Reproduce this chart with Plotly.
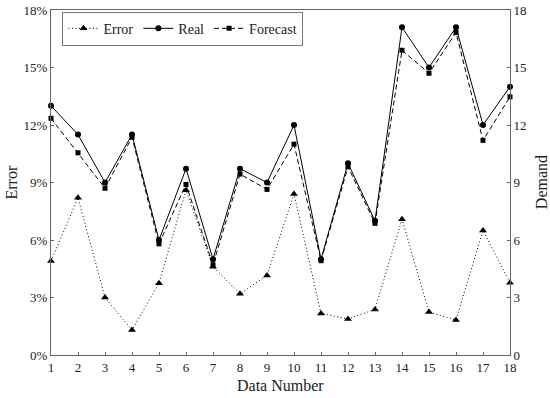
import plotly.graph_objects as go

data_number = list(range(1, 19))
error_pct = [4.9, 8.2, 3.0, 1.3, 3.75, 8.6, 4.6, 3.2, 4.15, 8.4, 2.17, 1.88, 2.38, 7.08, 2.24, 1.83, 6.5, 3.77]
real = [13.0, 11.5, 9.0, 11.5, 6.0, 9.72, 5.0, 9.72, 9.0, 12.0, 5.0, 10.0, 7.0, 17.1, 15.0, 17.1, 12.0, 14.0]
forecast = [12.35, 10.55, 8.7, 11.36, 5.8, 8.9, 4.7, 9.44, 8.64, 11.0, 4.92, 9.82, 6.87, 15.9, 14.7, 16.83, 11.2, 13.47]

error_frac = [v / 100 for v in error_pct]
err_ticks = [0, 0.03, 0.06, 0.09, 0.12, 0.15, 0.18]
dem_ticks = [0, 3, 6, 9, 12, 15, 18]

font = "Liberation Serif"
fig = go.Figure()
fig.add_trace(go.Scatter(x=data_number, y=error_frac, name="Error", mode="lines+markers",
                         line=dict(color="black", width=1, dash="1px,2.5px"),
                         marker=dict(symbol="triangle-up", size=7, color="black"),
                         cliponaxis=False, yaxis="y"))
fig.add_trace(go.Scatter(x=data_number, y=real, name="Real", mode="lines+markers",
                         line=dict(color="black", width=1),
                         marker=dict(symbol="circle", size=6, color="black"),
                         cliponaxis=False, yaxis="y2"))
fig.add_trace(go.Scatter(x=data_number, y=forecast, name="Forecast", mode="lines+markers",
                         line=dict(color="black", width=1, dash="5px,3px"),
                         marker=dict(symbol="square", size=5, color="black"),
                         cliponaxis=False, yaxis="y2"))

axis_common = dict(showgrid=False, zeroline=False, showline=True, linecolor="#666", linewidth=1,
                   ticks="inside", ticklen=3, tickcolor="#666", automargin=False,
                   tickfont=dict(family=font, size=13, color="#222"))

title_font = dict(family=font, size=16, color="#222")
fig.update_layout(
    width=550, height=398,
    margin=dict(l=51, r=40, t=10, b=43),
    paper_bgcolor="white", plot_bgcolor="white",
    font=dict(family=font, color="#222"),
    showlegend=True,
    legend=dict(orientation="h", x=0.025, y=0.995, xanchor="left", yanchor="top",
                bordercolor="#777", borderwidth=1, bgcolor="white",
                font=dict(family=font, size=14), tracegroupgap=0),
    xaxis=dict(range=[1, 18], tickvals=data_number, mirror=True, **axis_common),
    yaxis=dict(range=[0, 0.18], tickvals=err_ticks, tickformat=".0%", **axis_common),
    yaxis2=dict(range=[0, 18], tickvals=dem_ticks, overlaying="y", side="right", **axis_common),
    annotations=[
        dict(text="Data Number", xref="paper", yref="paper", x=0.501, y=-0.088,
             xanchor="center", yanchor="middle", showarrow=False, font=title_font),
        dict(text="Error", xref="paper", yref="paper", x=-0.085, y=0.5, textangle=-90,
             xanchor="center", yanchor="middle", showarrow=False, font=title_font),
        dict(text="Demand", xref="paper", yref="paper", x=1.069, y=0.5, textangle=-90,
             xanchor="center", yanchor="middle", showarrow=False, font=title_font),
    ],
)
fig.write_html("out.html", config={"displayModeBar": False},
               post_script="document.body.style.margin='0';document.body.style.overflow='hidden';")
